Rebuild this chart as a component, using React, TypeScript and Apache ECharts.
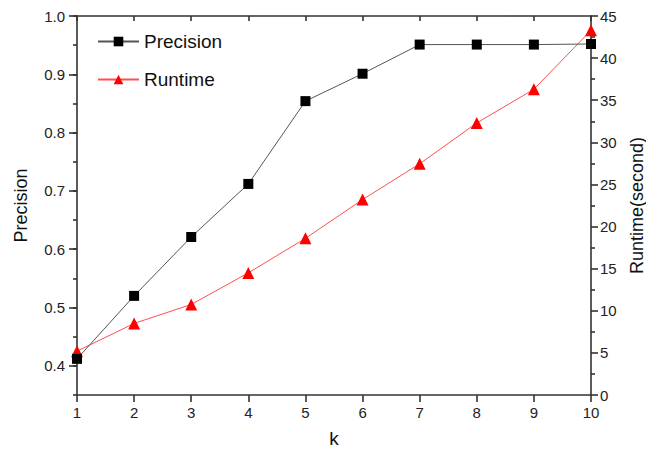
import React, { useEffect, useRef } from "react";
import * as echarts from "echarts";

const kValues = [1, 2, 3, 4, 5, 6, 7, 8, 9, 10];
const precision = [0.412, 0.52, 0.621, 0.712, 0.854, 0.901, 0.951, 0.951, 0.951, 0.952];
const runtime = [5.2, 8.5, 10.75, 14.5, 18.6, 23.2, 27.45, 32.3, 36.3, 43.3];
const precisionTicks = [0.4, 0.5, 0.6, 0.7, 0.8, 0.9, 1.0];

const FONT = "Liberation Sans";
const AXIS_COLOR = "#333333";

export default function App() {
  const ref = useRef<HTMLDivElement>(null);
  useEffect(() => {
    if (!ref.current) return;
    const chart = echarts.init(ref.current, undefined, { renderer: "svg" });
    const axisLine = { show: true, lineStyle: { color: AXIS_COLOR, width: 1.6 } };
    chart.setOption({
      animation: false,
      backgroundColor: "#ffffff",
      textStyle: { fontFamily: FONT },
      grid: { left: 77, right: 55, top: 16, bottom: 61, containLabel: false, outerBoundsMode: "none" },
      legend: {
        orient: "vertical",
        left: 97,
        top: 32,
        padding: 0,
        itemWidth: 41,
        itemHeight: 12,
        itemGap: 19,
        textStyle: { fontFamily: FONT, fontSize: 19, color: "#111" },
        data: ["Precision", "Runtime"],
      },
      xAxis: [
        {
          type: "value",
          position: "bottom",
          min: 1,
          max: 10,
          interval: 1,
          name: "k",
          nameLocation: "middle",
          nameGap: 34,
          nameTextStyle: { fontFamily: FONT, fontSize: 19, color: "#111" },
          axisLine,
          axisTick: { show: true, inside: false, length: 7, lineStyle: { color: AXIS_COLOR, width: 1.6 } },
          axisLabel: { fontFamily: FONT, fontSize: 15, color: "#222", margin: 10 },
          splitLine: { show: false },
        },
        {
          type: "value",
          position: "top",
          min: 1,
          max: 10,
          interval: 1,
          axisLine,
          axisTick: { show: true, inside: true, length: 5, lineStyle: { color: AXIS_COLOR, width: 1.6 } },
          axisLabel: { show: false },
          splitLine: { show: false },
        },
      ],
      yAxis: [
        {
          type: "value",
          position: "left",
          min: 0.35,
          max: 1.0,
          name: "Precision",
          nameLocation: "middle",
          nameRotate: 90,
          nameGap: 47,
          nameTextStyle: { fontFamily: FONT, fontSize: 18, color: "#111" },
          axisLine,
          axisTick: {
            show: true,
            length: 8,
            customValues: precisionTicks,
            lineStyle: { color: AXIS_COLOR, width: 1.6 },
          },
          axisLabel: {
            fontFamily: FONT,
            fontSize: 15,
            color: "#222",
            margin: 12,
            customValues: precisionTicks,
            formatter: (v: number) => v.toFixed(1),
          },
          splitLine: { show: false },
        },
        {
          type: "value",
          position: "right",
          min: 0,
          max: 45,
          interval: 5,
          name: "Runtime(second)",
          nameLocation: "middle",
          nameRotate: 90,
          nameGap: 21,
          nameTextStyle: { fontFamily: FONT, fontSize: 18, color: "#111" },
          axisLine,
          axisTick: { show: true, length: 7, lineStyle: { color: AXIS_COLOR, width: 1.6 } },
          minorTick: { show: true, splitNumber: 2, length: 4, lineStyle: { color: AXIS_COLOR, width: 1.6 } },
          axisLabel: { fontFamily: FONT, fontSize: 15, color: "#222", margin: 9 },
          splitLine: { show: false },
          minorSplitLine: { show: false },
        },
        {
          type: "value",
          position: "left",
          min: 0.35,
          max: 1.0,
          interval: 0.05,
          axisLine: { show: false },
          axisTick: { show: true, length: 4, lineStyle: { color: AXIS_COLOR, width: 1.6 } },
          axisLabel: { show: false },
          splitLine: { show: false },
        },
      ],
      series: [
        {
          name: "Precision",
          type: "line",
          xAxisIndex: 0,
          yAxisIndex: 0,
          data: kValues.map((k, i) => [k, precision[i]]),
          symbol: "rect",
          symbolSize: 10,
          itemStyle: { color: "#000000" },
          lineStyle: { color: "#555555", width: 1 },
          z: 3,
        },
        {
          name: "Runtime",
          type: "line",
          xAxisIndex: 0,
          yAxisIndex: 1,
          data: kValues.map((k, i) => [k, runtime[i]]),
          symbol: "triangle",
          symbolSize: 12,
          itemStyle: { color: "#ff0000" },
          lineStyle: { color: "#ff5050", width: 1 },
          z: 2,
        },
      ],
    });
    return () => chart.dispose();
  }, []);
  return (
    <div
      ref={ref}
      style={{ position: "fixed", left: 0, top: 0, width: 646, height: 456, background: "#fff" }}
    />
  );
}
